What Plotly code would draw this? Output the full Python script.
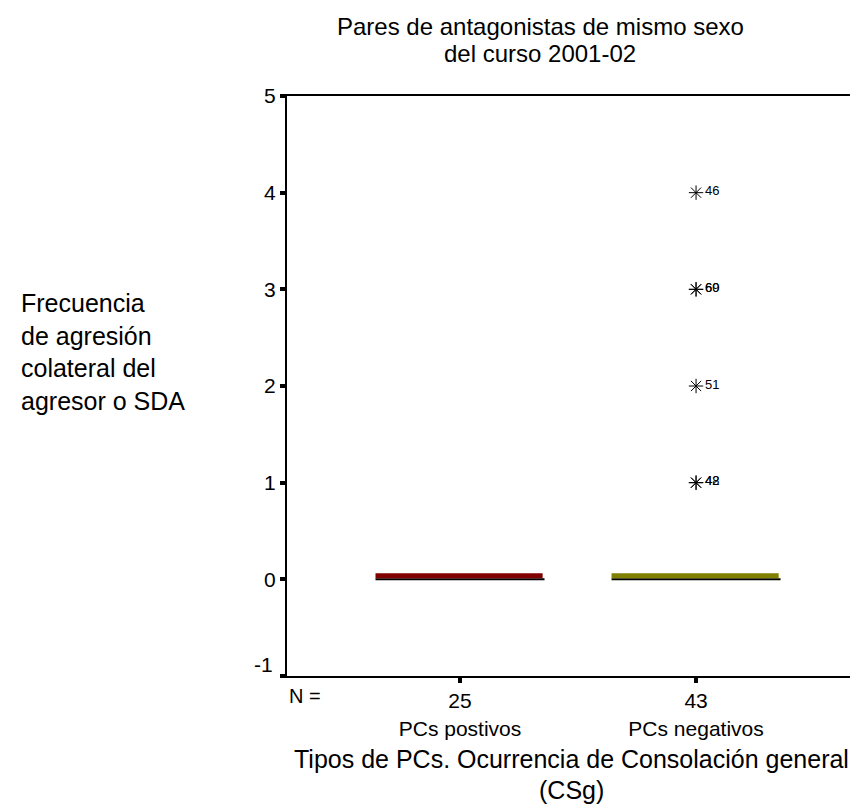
import numpy as np
import plotly.graph_objects as go

# ---- data ----
categories = ["PCs postivos", "PCs negativos"]
n_counts = ["25", "43"]
group_pos = [0] * 25
group_neg_zeros = [0] * 37
group_neg_extremes = [4, 3, 3, 2, 1, 1]
group_neg_extreme_ids = ["46", "60", "69", "51", "48", "42"]
group_neg = group_neg_zeros + group_neg_extremes
y_ticks = [-1, 0, 1, 2, 3, 4, 5]
box_colors = ["#800000", "#808000"]
title_lines = ["Pares de antagonistas de mismo sexo", "del curso 2001-02"]
xtitle_lines = ["Tipos de PCs. Ocurrencia de Consolación general", "(CSg)"]
ylabel = "Frecuencia<br>de agresión<br>colateral del<br>agresor o SDA"

groups = [group_pos, group_neg]
FONT = "Arial, Liberation Sans, sans-serif"
BOX_W = 0.716

fig = go.Figure()
for i, vals in enumerate(groups):
    fig.add_trace(go.Box(
        y=vals, x0=i, width=BOX_W,
        boxpoints="outliers", jitter=0, pointpos=0,
        fillcolor=box_colors[i],
        line=dict(color="black", width=2),
        marker=dict(symbol="asterisk-open", size=12, color="black",
                    line=dict(color="black", width=1)),
        showlegend=False, hoverinfo="skip",
    ))

shapes = []
for i, vals in enumerate(groups):
    med = float(np.median(vals))
    shapes.append(dict(
        type="rect", xref="x", yref="y",
        x0=i - BOX_W / 2, x1=i + BOX_W / 2 - 0.008,
        ysizemode="pixel", yanchor=med, y0=1, y1=6,
        fillcolor=box_colors[i], line=dict(width=0), layer="above",
    ))

annotations = []
for v, lab in zip(group_neg_extremes, group_neg_extreme_ids):
    annotations.append(dict(
        x=1, y=v, xref="x", yref="y", text=lab, showarrow=False,
        xanchor="left", yanchor="middle", xshift=7, yshift=2,
        font=dict(family=FONT, size=13, color="black"),
    ))

# title (two lines, SPSS-like tight spacing)
for line, shift in zip(title_lines, [70, 43]):
    annotations.append(dict(
        x=0.437, y=1, xref="paper", yref="paper", yanchor="middle", yshift=shift,
        text=line, showarrow=False, font=dict(family=FONT, size=24, color="black"),
    ))
# y-axis label
annotations.append(dict(
    x=0, y=1, xref="paper", yref="paper", xanchor="left", yanchor="top",
    xshift=-268, yshift=-191, align="left",
    text=ylabel, showarrow=False, font=dict(family=FONT, size=25, color="black"),
))
# x-axis title
for line, shift in zip(xtitle_lines, [-83, -114]):
    annotations.append(dict(
        x=0.492, y=0, xref="paper", yref="paper", yanchor="middle", yshift=shift,
        text=line, showarrow=False, font=dict(family=FONT, size=25, color="black"),
    ))
# N =
annotations.append(dict(
    x=0, y=0, xref="paper", yref="paper", yanchor="top", yshift=-7,
    text="N =", showarrow=False, font=dict(family=FONT, size=20, color="black"),
))
# -1 label (SPSS places it slightly above the corner)
annotations.append(dict(
    x=0, y=-1, xref="paper", yref="y", xanchor="right", xshift=-12, yshift=12,
    text=str(y_ticks[0]), showarrow=False,
    font=dict(family=FONT, size=21, color="black"),
))

fig.update_layout(
    width=858, height=809,
    margin=dict(l=279, r=0, t=88, b=141),
    paper_bgcolor="white", plot_bgcolor="white",
    shapes=shapes, annotations=annotations,
    xaxis=dict(
        range=[-0.733, 1.72], tickvals=[0, 1],
        ticktext=[f"{n}<br>{c}" for n, c in zip(n_counts, categories)],
        showline=True, linecolor="black", linewidth=2, mirror=True,
        ticks="outside", ticklen=5, tickwidth=4, tickcolor="black",
        showgrid=False, zeroline=False,
        tickfont=dict(family=FONT, size=21, color="black"),
    ),
    yaxis=dict(
        range=[-1, 5], tickvals=y_ticks,
        ticktext=[""] + [str(t) for t in y_ticks[1:]],
        showline=True, linecolor="black", linewidth=2,
        ticks="outside", ticklen=5, tickwidth=4, tickcolor="black",
        showgrid=False, zeroline=False,
        tickfont=dict(family=FONT, size=21, color="black"),
    ),
)

fig.write_html("out.html")
